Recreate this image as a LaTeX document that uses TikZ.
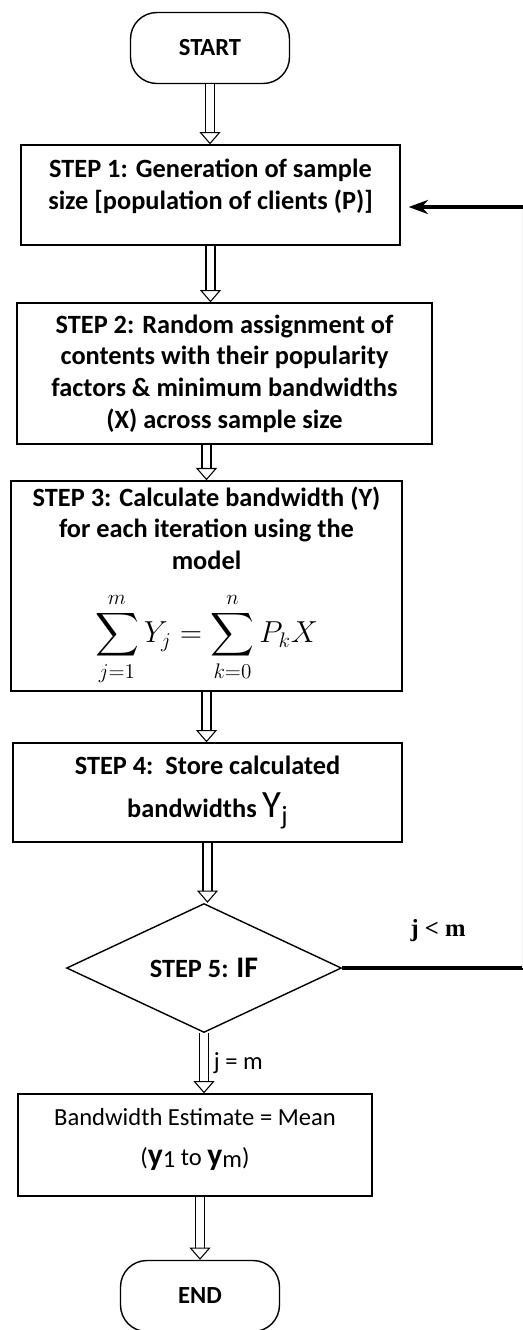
\documentclass[tikz,border=0pt]{standalone}
\usepackage{amsmath}
\usepackage[no-math]{fontspec}
\setmainfont{Carlito}
\newfontfamily\timesfont{Liberation Serif}
\usetikzlibrary{arrows.meta, shapes.geometric}

\begin{document}
\begin{tikzpicture}[x=0.02cm, y=-0.02cm,
    box/.style={draw, line width=0.8pt, align=center, font=\fontsize{15}{18}\selectfont\bfseries},
    term/.style={box, font=\fontsize{14}{17}\selectfont\bfseries, rounded corners=15pt, minimum width=3.18cm, minimum height=1.42cm},
    flow/.style={double, double distance=4.5pt, line width=0.6pt, -{Triangle[open, length=7pt, width=12pt]}},
    loopline/.style={line width=1.8pt}]
    \useasboundingbox (0,0) rectangle (523,1330);
    % Steps
    \node[term] (start) at (210,48) {START};
    \node[box, minimum width=7.58cm, minimum height=2cm] (s1) at (210.5,195)
        {STEP 1: Generation of sample\\ size [population of clients (P)]\\[-6pt]\mbox{}};
    \node[box, minimum width=8.3cm, minimum height=2.82cm] (s2) at (224.5,373.5)
        {STEP 2: Random assignment of\\ contents with their popularity\\ factors \& minimum bandwidths\\ (X) across sample size};
    \node[box, minimum width=7.82cm, minimum height=4.12cm] (s3) at (206.5,586)
        {\mbox{}\\[-7pt] STEP 3: Calculate bandwidth (Y)\\ for each iteration using the\\ model\\[12pt]
         {\LARGE\mdseries $\displaystyle\sum_{j=1}^{m} Y_j = \sum_{k=0}^{n} P_k X$}};
    \node[box, minimum width=7.78cm, minimum height=1.98cm] (s4) at (207.5,792.5)
        {STEP 4:\ \ Store calculated\\[7pt] bandwidths {\fontsize{22}{22}\selectfont\mdseries Y}\raisebox{-4pt}{\mdseries j}};
    \node[box, diamond, minimum width=5.5cm, minimum height=2.58cm, inner sep=0pt] (d5) at (204,968)
        {STEP 5: {\fontsize{17}{17}\selectfont IF}};
    \node[box, font=\fontsize{14}{18}\selectfont, minimum width=7.08cm, minimum height=2.04cm] (fin) at (195,1145)
        {Bandwidth Estimate = Mean\\[5pt] ({\fontsize{18}{18}\selectfont\bfseries y}\raisebox{-1pt}{1} to {\fontsize{18}{18}\selectfont\bfseries y}\raisebox{-1pt}{m})\\[-9pt]\mbox{}};
    \node[term] (end) at (200,1296) {END};
    % Ablauf
    \draw[flow] (start) -- (start.south |- s1.north);
    \draw[flow] (s1.south) -- (s1.south |- s2.north);
    \draw[flow] (s2.south -| s3.north) -- (s3.north);
    \draw[flow] (s3.south) -- (s3.south |- s4.north);
    \draw[flow] (s4.south) -- (s4.south |- d5.north);
    \draw[flow] (d5.south) -- node[right=2pt, font=\fontsize{14}{14}\selectfont] (jeq) {j = m} (d5.south |- fin.north);
    \draw[flow] (fin.south -| end.north) -- (end.north);
    % Schleife
    \coordinate (redge) at (523,968);
    \coordinate (tedge) at (523,207);
    \draw[loopline] (d5.east) -- node[above=11pt, pos=0.53, font=\timesfont\bfseries\fontsize{14}{14}\selectfont] (jlt) {j < m} (redge);
    \draw[black!5, line width=0.6pt] (redge) -- (tedge);
    \draw[line width=2.6pt, -{Stealth[length=11pt, width=8pt]}, shorten >=0.16cm] (tedge) -- (s1.east |- tedge);
\end{tikzpicture}
\end{document}
